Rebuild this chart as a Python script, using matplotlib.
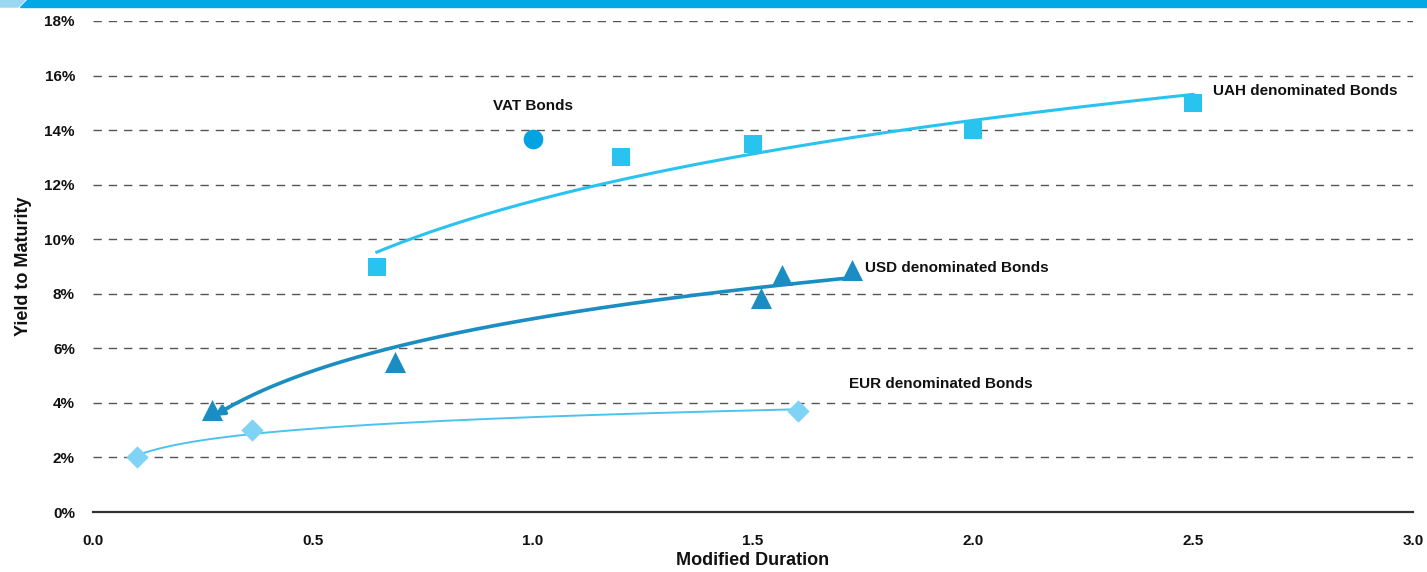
import numpy as np
import matplotlib.pyplot as plt
from matplotlib.patches import Polygon
from matplotlib.ticker import FuncFormatter

# data (duration, yield %)
uah_x = [0.645, 1.2, 1.5, 2.0, 2.5]
uah_y = [9.0, 13.0, 13.5, 14.0, 15.0]
usd_x = [0.27, 0.686, 1.518, 1.566, 1.725]
usd_y = [3.75, 5.5, 7.85, 8.7, 8.87]
eur_x = [0.1, 0.361, 1.602]
eur_y = [2.0, 3.0, 3.7]
vat_x = [1.0]
vat_y = [13.66]

UAH_COL = '#29C3EF'
USD_COL = '#1A8DC2'
EUR_COL = '#7FD3F5'
EUR_LINE = '#4CC3EE'
VAT_COL = '#02A3E0'

plt.rcParams['font.family'] = ['Liberation Sans Narrow', 'Liberation Sans', 'DejaVu Sans']


def log_trend(xs, ys, n=200):
    # excel-style logarithmic trendline
    b, a = np.polyfit(np.log(xs), ys, 1)
    xx = np.linspace(min(xs), max(xs), n)
    return xx, a + b * np.log(xx)


fig = plt.figure(figsize=(14.27, 5.72), dpi=100)
ax = fig.add_axes([93 / 1427, 60 / 572, 1320 / 1427, 491 / 572])

# top banner
fig.patches.append(Polygon([[0, 1], [25 / 1427, 1], [18 / 1427, 1 - 7 / 572], [0, 1 - 7 / 572]],
                           closed=True, transform=fig.transFigure, color='#9BD6F3', zorder=0))
fig.patches.append(Polygon([[27 / 1427, 1], [1, 1], [1, 1 - 7 / 572], [20 / 1427, 1 - 7 / 572]],
                           closed=True, transform=fig.transFigure, color='#00A9E6', zorder=0))

# trend lines
xx, yy = log_trend(uah_x, uah_y)
ax.plot(xx, yy, color=UAH_COL, lw=2.2, zorder=2)
xx, yy = log_trend(usd_x, usd_y)
ax.plot(xx, yy, color=USD_COL, lw=2.6, zorder=2)
ax.annotate('', xy=(xx[0], yy[0]), xytext=(xx[6], yy[6]),
            arrowprops=dict(arrowstyle='-|>', color=USD_COL, lw=2.6, mutation_scale=14), zorder=2)
xx, yy = log_trend(eur_x, eur_y)
ax.plot(xx, yy, color=EUR_LINE, lw=1.4, zorder=2)

# points
ax.scatter(uah_x, uah_y, marker='s', s=150, color=UAH_COL, zorder=3, linewidths=0)
ax.scatter(usd_x, usd_y, marker='^', s=230, color=USD_COL, zorder=3, linewidths=0)
ax.scatter(eur_x, eur_y, marker='D', s=130, color=EUR_COL, zorder=3, linewidths=0)
ax.scatter(vat_x, vat_y, marker='o', s=200, color=VAT_COL, zorder=3, linewidths=0)

lbl = dict(fontsize=11, fontweight='bold', color='#111111')
ax.text(1.0, 14.9, 'VAT Bonds', ha='center', va='center', **lbl)
ax.text(2.545, 15.45, 'UAH denominated Bonds', ha='left', va='center', **lbl)
ax.text(1.755, 8.95, 'USD denominated Bonds', ha='left', va='center', **lbl)
ax.text(1.718, 4.7, 'EUR denominated Bonds', ha='left', va='center', **lbl)

ax.set_xlim(0, 3.0)
ax.set_ylim(0, 18)
ax.set_xticks(np.arange(0, 3.01, 0.5))
ax.set_yticks(np.arange(0, 18.1, 2))
ax.xaxis.set_major_formatter(FuncFormatter(lambda v, p: f'{v:.1f}'))
ax.yaxis.set_major_formatter(FuncFormatter(lambda v, p: f'{v:.0f}%'))
ax.tick_params(axis='both', length=0, labelsize=11, colors='#111111')
ax.tick_params(axis='y', pad=13)
ax.tick_params(axis='x', pad=16)
for t in ax.get_xticklabels() + ax.get_yticklabels():
    t.set_fontweight('bold')

for g in np.arange(2, 18.1, 2):
    ax.axhline(g, color='#555555', lw=1, ls=(0, (6, 5)), zorder=1)

for s in ['top', 'right', 'left']:
    ax.spines[s].set_visible(False)
ax.spines['bottom'].set_color('#333333')
ax.spines['bottom'].set_linewidth(1.6)

ax.set_xlabel('Modified Duration', fontsize=13, fontweight='bold', labelpad=3, color='#111111')
ax.set_ylabel('Yield to Maturity', fontsize=13, fontweight='bold', labelpad=9, color='#111111')

fig.savefig('out.png', dpi=100)
